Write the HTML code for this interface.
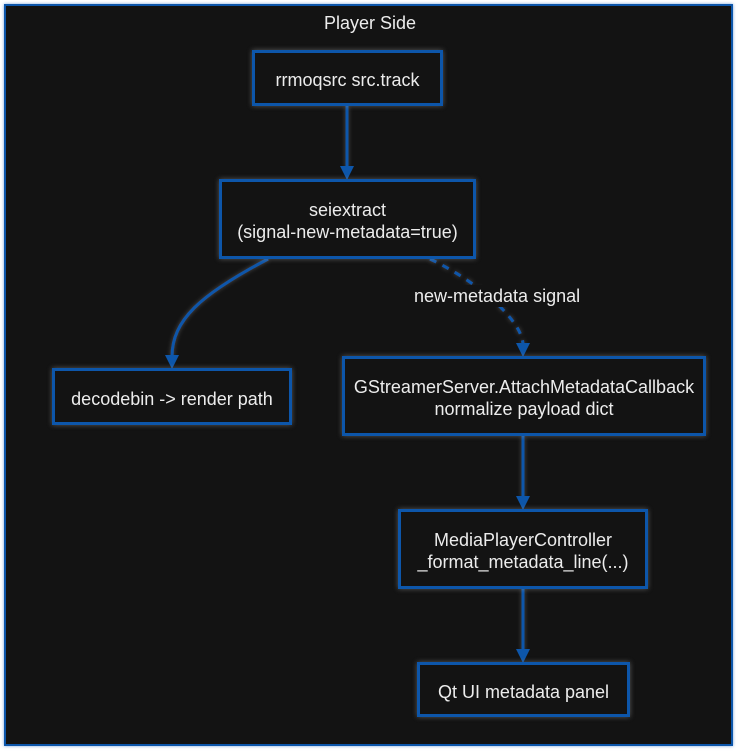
<!DOCTYPE html>
<html><head><meta charset="utf-8"><style>
html,body{margin:0;padding:0;background:#fff;width:740px;height:756px;overflow:hidden}
body{position:relative;font-family:"Liberation Sans",Arial,sans-serif}
.outer{position:absolute;left:4px;top:4px;width:725px;height:738px;background:#131313;border:2px solid #0d56aa;box-shadow:0 0 3px rgba(90,140,210,.8)}
.node{position:absolute;box-sizing:border-box;border:3px solid #0d56aa;background:#131313;color:#ececec;font-size:18px;line-height:22px;display:flex;align-items:center;justify-content:center;text-align:center;box-shadow:0 0 5px rgba(170,170,170,.45);padding-top:4px}
.title{position:absolute;left:0;width:740px;top:12px;text-align:center;color:#ececec;font-size:18px;line-height:22px}
.lbl{position:absolute;color:#ececec;font-size:18px;line-height:22px;background:#131313;padding:0 2px}
svg{position:absolute;left:0;top:0}
</style></head><body>
<div class="outer"></div>
<div class="title">Player Side</div>
<svg width="740" height="756" viewBox="0 0 740 756">
<defs><filter id="g" x="-20%" y="-20%" width="140%" height="140%"><feDropShadow dx="0" dy="0" stdDeviation="2" flood-color="#999" flood-opacity=".45"/></filter></defs>
<g fill="none" stroke="#0d56aa" stroke-width="3" filter="url(#g)">
<path d="M347,106 L347,168"/>
<path d="M268,259 C200,295 172,320 172,357"/>
<path d="M430,259 C475,280 523,320 523,345" stroke-dasharray="7,7"/>
<path d="M523,436 L523,498"/>
<path d="M523,588 L523,651"/>
</g>
<g fill="#0d56aa">
<path d="M340,166 L354,166 L347,180 Z"/>
<path d="M165,355 L179,355 L172,369 Z"/>
<path d="M516,343 L530,343 L523,357 Z"/>
<path d="M516,496 L530,496 L523,510 Z"/>
<path d="M516,649 L530,649 L523,663 Z"/>
</g>
</svg>
<div class="lbl" style="left:412px;top:285px">new-metadata signal</div>
<div class="node" style="left:252px;top:50px;width:191px;height:56px">rrmoqsrc src.track</div>
<div class="node" style="left:219px;top:179px;width:257px;height:80px">seiextract<br>(signal-new-metadata=true)</div>
<div class="node" style="left:52px;top:368px;width:240px;height:57px">decodebin -&gt; render path</div>
<div class="node" style="left:342px;top:356px;width:364px;height:80px">GStreamerServer.AttachMetadataCallback<br>normalize payload dict</div>
<div class="node" style="left:398px;top:509px;width:250px;height:80px">MediaPlayerController<br>_format_metadata_line(...)</div>
<div class="node" style="left:417px;top:662px;width:213px;height:55px">Qt UI metadata panel</div>
</body></html>
